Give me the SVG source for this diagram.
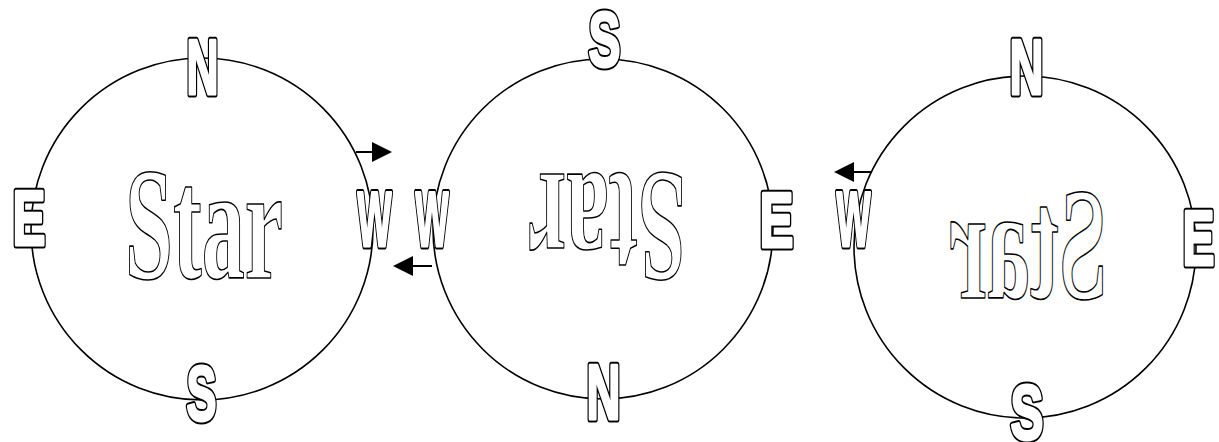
<svg xmlns="http://www.w3.org/2000/svg" xmlns:xlink="http://www.w3.org/1999/xlink" width="1219" height="442" viewBox="0 0 1219 442">
<style>
.ring{fill:none;stroke:#000;stroke-width:1.6}
.dir{font-family:"Liberation Sans",Arial,sans-serif;font-weight:bold;font-size:78px}
.back{fill:#000;stroke:#000;stroke-width:7;stroke-linejoin:round}
.front{fill:#fff;stroke:#fff;stroke-width:3;stroke-linejoin:round}
.star{font-family:"Liberation Serif","Times New Roman",serif;font-weight:bold;font-size:160px;fill:#fff;stroke:#000;stroke-width:1.6;stroke-linejoin:round}
.arr{stroke:#000;stroke-width:2;fill:none}
</style>
<defs>
<marker id="head" markerUnits="userSpaceOnUse" markerWidth="20" markerHeight="20" refX="0" refY="10" orient="auto" viewBox="0 0 20 20">
<path d="M0,0 L20,10 L0,20 Z" fill="#000"/>
</marker>
</defs>
<g id="compass-left">
<circle class="ring" cx="202" cy="229" r="171"/>
<text class="star" x="204" y="278" text-anchor="middle" textLength="158" lengthAdjust="spacingAndGlyphs">Star</text>
<use href="#l-n" xlink:href="#l-n" class="back"/>
<use href="#l-e" xlink:href="#l-e" class="back"/>
<use href="#l-s" xlink:href="#l-s" class="back"/>
<use href="#l-w" xlink:href="#l-w" class="back"/>
<g class="front">
<text id="l-n" class="dir" x="186.5" y="93.5" textLength="32" lengthAdjust="spacingAndGlyphs">N</text>
<text id="l-e" class="dir" x="12.5" y="244.5" textLength="33" lengthAdjust="spacingAndGlyphs">E</text>
<text id="l-s" class="dir" x="186.5" y="419.5" textLength="30" lengthAdjust="spacingAndGlyphs">S</text>
<text id="l-w" class="dir" x="357.5" y="245.5" textLength="34" lengthAdjust="spacingAndGlyphs">W</text>
</g>
</g>
<g id="compass-middle">
<circle class="ring" cx="603" cy="229" r="170"/>
<text class="star" transform="translate(607,174) rotate(180)" x="0" y="0" text-anchor="middle" textLength="158" lengthAdjust="spacingAndGlyphs">Star</text>
<use href="#m-s" xlink:href="#m-s" class="back"/>
<use href="#m-w" xlink:href="#m-w" class="back"/>
<use href="#m-e" xlink:href="#m-e" class="back"/>
<use href="#m-n" xlink:href="#m-n" class="back"/>
<g class="front">
<text id="m-s" class="dir" x="588.5" y="66" textLength="32" lengthAdjust="spacingAndGlyphs">S</text>
<text id="m-w" class="dir" x="415.5" y="245.5" textLength="33" lengthAdjust="spacingAndGlyphs">W</text>
<text id="m-e" class="dir" x="759.5" y="246.5" textLength="34" lengthAdjust="spacingAndGlyphs">E</text>
<text id="m-n" class="dir" x="586.5" y="418.5" textLength="34" lengthAdjust="spacingAndGlyphs">N</text>
</g>
</g>
<g id="compass-right">
<circle class="ring" cx="1025" cy="247" r="171"/>
<text class="star" transform="translate(1028,298) scale(-1,1)" x="0" y="0" text-anchor="middle" textLength="158" lengthAdjust="spacingAndGlyphs">Star</text>
<use href="#r-n" xlink:href="#r-n" class="back"/>
<use href="#r-w" xlink:href="#r-w" class="back"/>
<use href="#r-e" xlink:href="#r-e" class="back"/>
<use href="#r-s" xlink:href="#r-s" class="back"/>
<g class="front">
<text id="r-n" class="dir" x="1009.5" y="93.5" textLength="34" lengthAdjust="spacingAndGlyphs">N</text>
<text id="r-w" class="dir" x="836.5" y="245.5" textLength="34" lengthAdjust="spacingAndGlyphs">W</text>
<text id="r-e" class="dir" x="1182.5" y="264.5" textLength="32" lengthAdjust="spacingAndGlyphs">E</text>
<text id="r-s" class="dir" x="1010.5" y="439" textLength="33" lengthAdjust="spacingAndGlyphs">S</text>
</g>
</g>
<g id="connectors">
<line class="arr" x1="356" y1="152" x2="372" y2="152" marker-end="url(#head)"/>
<line class="arr" x1="432" y1="266" x2="413" y2="266" marker-end="url(#head)"/>
<line class="arr" x1="871" y1="172" x2="854" y2="172" marker-end="url(#head)"/>
</g>
</svg>
